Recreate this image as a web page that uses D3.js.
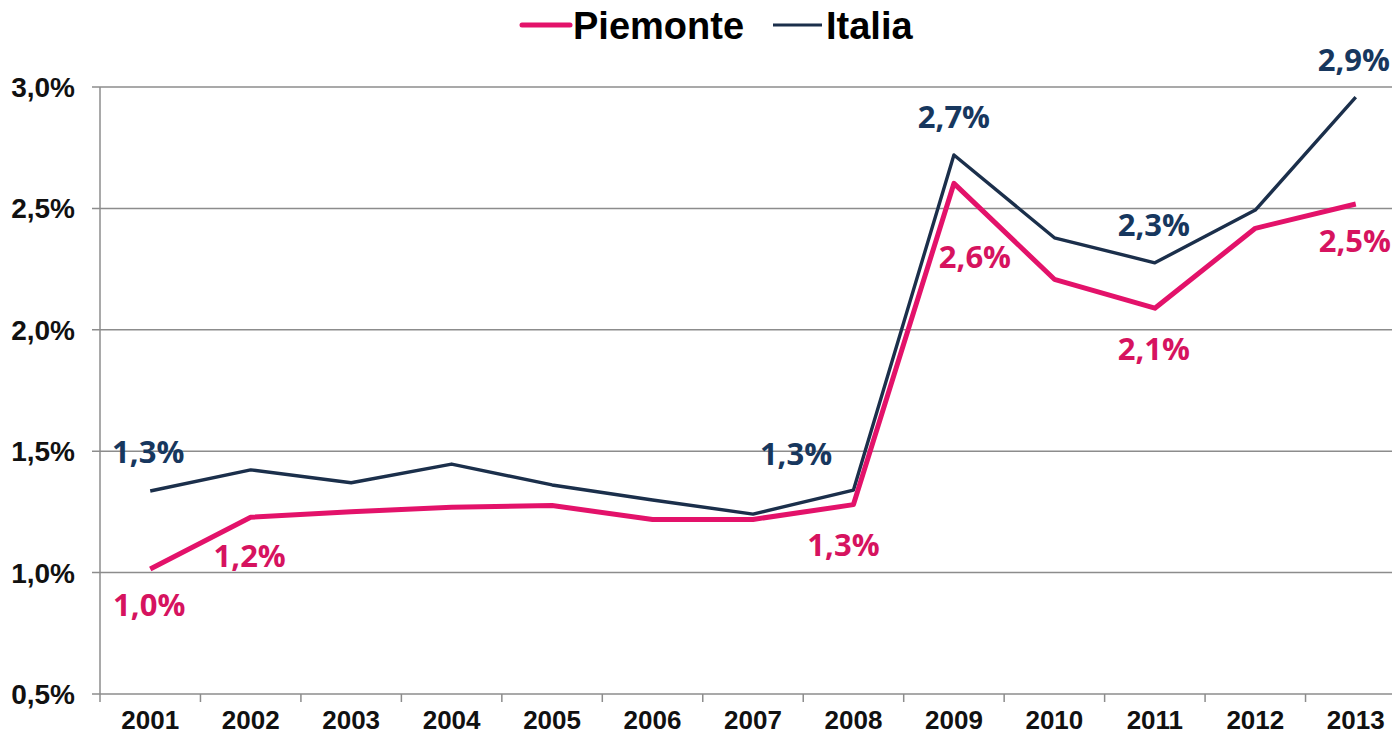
<!DOCTYPE html>
<html>
<head>
<meta charset="utf-8">
<script src="https://cdn.jsdelivr.net/npm/d3@7"></script>
<style>
  body { margin: 0; background: #fff; }
  svg { display: block; }
  .tick-label { font-family: "Liberation Sans", Arial, sans-serif; font-weight: bold; font-size: 26px; fill: #111; }
  .tick-label.y { font-size: 28px; }
  .data-label { font-family: "Open Sans", "Noto Sans", sans-serif; font-weight: 700; font-size: 31px; }
  .legend-label { font-family: "Liberation Sans", Arial, sans-serif; font-weight: bold; font-size: 38px; fill: #000; }
</style>
</head>
<body>
<svg width="1392" height="743"></svg>
<script>
// dati
const years = ["2001", "2002", "2003", "2004", "2005", "2006", "2007", "2008", "2009", "2010", "2011", "2012", "2013"];
const piemonte = [1.015, 1.228, 1.251, 1.269, 1.276, 1.219, 1.219, 1.28, 2.603, 2.208, 2.089, 2.418, 2.518];
const italia = [1.336, 1.423, 1.370, 1.447, 1.361, 1.299, 1.241, 1.34, 2.72, 2.379, 2.276, 2.493, 2.958];
const yTicks = [0.5, 1.0, 1.5, 2.0, 2.5, 3.0];
const yTickLabels = ["0,5%", "1,0%", "1,5%", "2,0%", "2,5%", "3,0%"];
// etichette dei valori mostrate sul grafico
const piemonteLabels = { "2001": "1,0%", "2002": "1,2%", "2008": "1,3%", "2009": "2,6%", "2011": "2,1%", "2013": "2,5%" };
const italiaLabels = { "2001": "1,3%", "2007": "1,3%", "2009": "2,7%", "2011": "2,3%", "2013": "2,9%" };

const pink = "#e3126a";
const navy = "#1b2f4b";
const navyText = "#17375e";

const svg = d3.select("svg");

const xScale = d3.scaleBand()
    .domain(years)
    .range([100, 1406]);
const yScale = d3.scaleLinear()
    .domain([0.5, 3.0])
    .range([694, 87]);
const xc = d => xScale(d) + xScale.bandwidth() / 2;

// griglia
svg.append("g")
    .selectAll("line")
    .data(yTicks)
    .join("line")
    .attr("x1", 92)
    .attr("x2", 1392)
    .attr("y1", d => yScale(d))
    .attr("y2", d => yScale(d))
    .attr("stroke", "#8c8c8c")
    .attr("stroke-width", 1.5);

// asse y
svg.append("line")
    .attr("x1", 100).attr("x2", 100)
    .attr("y1", yScale(3.0)).attr("y2", yScale(0.5))
    .attr("stroke", "#8c8c8c")
    .attr("stroke-width", 1.5);

svg.append("g")
    .selectAll("text")
    .data(yTicks)
    .join("text")
    .attr("class", "tick-label y")
    .attr("x", 75)
    .attr("y", d => yScale(d) + 10)
    .attr("text-anchor", "end")
    .text((d, i) => yTickLabels[i]);

// asse x
svg.append("g")
    .selectAll("line")
    .data(years.concat(["end"]))
    .join("line")
    .attr("x1", (d, i) => 100 + i * xScale.bandwidth())
    .attr("x2", (d, i) => 100 + i * xScale.bandwidth())
    .attr("y1", yScale(0.5))
    .attr("y2", yScale(0.5) + 8)
    .attr("stroke", "#8c8c8c")
    .attr("stroke-width", 1.5);

svg.append("g")
    .selectAll("text")
    .data(years)
    .join("text")
    .attr("class", "tick-label")
    .attr("x", d => xc(d))
    .attr("y", 729)
    .attr("text-anchor", "middle")
    .text(d => d);

// linee
const line = d3.line()
    .x((d, i) => xc(years[i]))
    .y(d => yScale(d));

svg.append("path")
    .datum(italia)
    .attr("d", line)
    .attr("fill", "none")
    .attr("stroke", navy)
    .attr("stroke-width", 3.4)
    .attr("stroke-linejoin", "round");

svg.append("path")
    .datum(piemonte)
    .attr("d", line)
    .attr("fill", "none")
    .attr("stroke", pink)
    .attr("stroke-width", 5)
    .attr("stroke-linejoin", "round");

// etichette
const italiaOff = { "2001": [-2, -39], "2007": [43, -60], "2009": [0, -38], "2011": [-1, -38], "2013": [-2, -37] };
const piemonteOff = { "2001": [-1, 36], "2002": [-1, 39], "2008": [-10, 40], "2009": [21, 74], "2011": [-1, 41], "2013": [-1, 37] };

function drawLabels(values, labels, off, color) {
    svg.append("g")
        .selectAll("text")
        .data(Object.keys(labels))
        .join("text")
        .attr("class", "data-label")
        .attr("fill", color)
        .attr("text-anchor", "middle")
        .attr("x", d => xc(d) + off[d][0])
        .attr("y", d => yScale(values[years.indexOf(d)]) + off[d][1] + 11)
        .text(d => labels[d]);
}
drawLabels(italia, italiaLabels, italiaOff, navyText);
drawLabels(piemonte, piemonteLabels, piemonteOff, "#d6135f");

// legenda
const legend = svg.append("g");
legend.append("line")
    .attr("x1", 522).attr("x2", 570).attr("y1", 25).attr("y2", 25)
    .attr("stroke", pink).attr("stroke-width", 5).attr("stroke-linecap", "round");
legend.append("text")
    .attr("class", "legend-label")
    .attr("x", 573).attr("y", 39)
    .text("Piemonte");
legend.append("line")
    .attr("x1", 773).attr("x2", 822).attr("y1", 25).attr("y2", 25)
    .attr("stroke", navy).attr("stroke-width", 3);
legend.append("text")
    .attr("class", "legend-label")
    .attr("x", 826).attr("y", 39)
    .text("Italia");
</script>
</body>
</html>
